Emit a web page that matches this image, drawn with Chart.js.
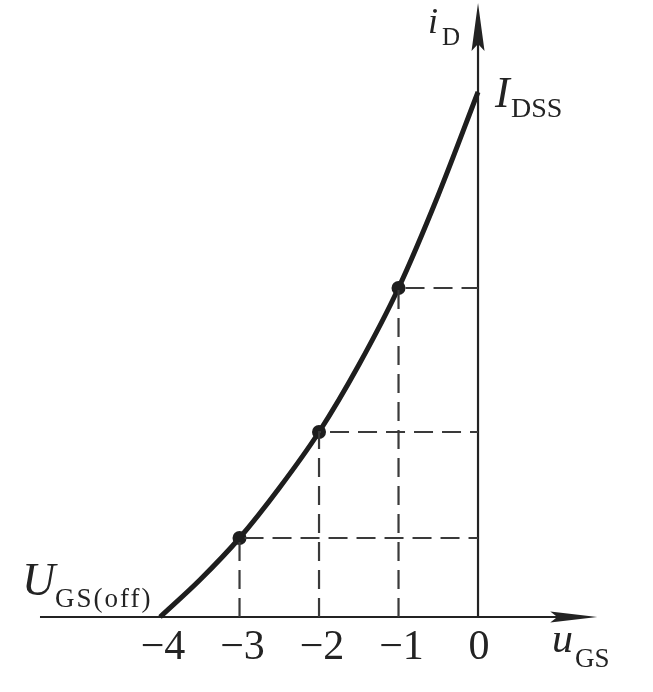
<!DOCTYPE html>
<html>
<head>
<meta charset="utf-8">
<script src="https://cdn.jsdelivr.net/npm/chart.js@4.4.1/dist/chart.umd.min.js"></script>
<style>
  html, body { margin: 0; padding: 0; background: #fff; }
  canvas { display: block; }
</style>
</head>
<body>
<canvas id="cv" width="653" height="692"></canvas>
<script>
// transfer characteristic of a JFET
const uGS = [-4, -3.5, -3, -2.5, -2, -1.5, -1, -0.5, 0];
const iD = [0, 0.37, 0.79, 1.29, 1.85, 2.52, 3.29, 4.22, 5.25];

// the three marked points
const markU = [-3, -2, -1];
const markI = [0.79, 1.85, 3.29];

const tickValues = [-4, -3, -2, -1, 0];
const tickLabels = ['\u22124', '\u22123', '\u22122', '\u22121', '0'];

const INK = '#232323';
const SERIF = '"Liberation Serif", "DejaVu Serif", serif';

const curve = uGS.map((u, i) => ({ x: u, y: iD[i] }));
const marks = markU.map((u, i) => ({ x: u, y: markI[i] }));

// dashed guides: down to the u axis and across to the i axis
const guides = markU.map((u, i) => ({
    data: [{ x: u, y: 0 }, { x: u, y: markI[i] }, { x: 0, y: markI[i] }],
    borderColor: '#3a3a3a', borderWidth: 2.2, borderDash: [19, 9],
    pointRadius: 0, showLine: true, fill: false, tension: 0
}));

function sub(ctx, main, s, x, y, mainPx, subPx, dx, dy, spacing) {
    ctx.font = 'italic ' + mainPx + 'px ' + SERIF;
    ctx.fillText(main, x, y);
    ctx.font = subPx + 'px ' + SERIF;
    ctx.letterSpacing = (spacing || 0) + 'px';
    ctx.fillText(s, x + dx, y + dy);
    ctx.letterSpacing = '0px';
}

const axesPlugin = {
    id: 'axes',
    beforeDatasetsDraw(chart) {
        const ctx = chart.ctx, sx = chart.scales.x, sy = chart.scales.y;
        const x0 = sx.getPixelForValue(0), y0 = sy.getPixelForValue(0);
        const xl = sx.getPixelForValue(-5.51), xr = sx.getPixelForValue(1.5);
        const yt = sy.getPixelForValue(6.14);
        ctx.save();
        ctx.strokeStyle = INK; ctx.fillStyle = INK; ctx.lineWidth = 2.2;
        ctx.beginPath();
        ctx.moveTo(xl, y0); ctx.lineTo(xr - 30, y0);
        ctx.moveTo(x0, y0); ctx.lineTo(x0, yt + 30);
        ctx.stroke();
        // arrow heads
        ctx.beginPath();
        ctx.moveTo(xr, y0); ctx.lineTo(xr - 47, y0 - 5.5); ctx.lineTo(xr - 40, y0); ctx.lineTo(xr - 47, y0 + 5.5);
        ctx.closePath(); ctx.fill();
        ctx.beginPath();
        ctx.moveTo(x0, yt); ctx.lineTo(x0 - 6.5, yt + 48); ctx.lineTo(x0, yt + 41); ctx.lineTo(x0 + 6.5, yt + 48);
        ctx.closePath(); ctx.fill();
        ctx.restore();
    },
    afterDraw(chart) {
        const ctx = chart.ctx, sx = chart.scales.x, sy = chart.scales.y;
        const y0 = sy.getPixelForValue(0);
        ctx.save();
        ctx.fillStyle = INK;
        ctx.textBaseline = 'alphabetic';
        ctx.textAlign = 'center';
        ctx.font = '42px ' + SERIF;
        tickValues.forEach((v, i) => {
            ctx.fillText(tickLabels[i], sx.getPixelForValue(v) + (v === 0 ? 1 : 3), y0 + 42);
        });
        ctx.textAlign = 'left';
        const x0 = sx.getPixelForValue(0);
        const ytop = sy.getPixelForValue(iD[iD.length - 1]);
        sub(ctx, 'i', 'D', x0 - 50, 33, 36, 25, 14, 12);
        sub(ctx, 'I', 'DSS', x0 + 17, ytop + 15, 44, 28, 16, 10);
        sub(ctx, 'U', 'GS(off)', 22, y0 - 22, 46, 27, 33, 12, 2);
        sub(ctx, 'u', 'GS', x0 + 74, y0 + 35, 42, 27, 23, 15);
        ctx.restore();
    }
};

new Chart(document.getElementById('cv'), {
    type: 'scatter',
    data: {
        datasets: [
            ...guides,
            {
                data: curve, showLine: true, borderColor: '#1e1e1e', borderWidth: 5,
                pointRadius: 0, cubicInterpolationMode: 'monotone', fill: false
            },
            {
                data: marks, showLine: false, pointRadius: 7,
                pointBackgroundColor: '#1e1e1e', pointBorderColor: '#1e1e1e', pointBorderWidth: 0
            }
        ]
    },
    options: {
        responsive: false, animation: false,
        layout: { padding: 0, autoPadding: false },
        plugins: { legend: { display: false }, tooltip: { enabled: false } },
        scales: {
            x: { type: 'linear', display: false, min: -6.013, max: 2.201 },
            y: { type: 'linear', display: false, min: -0.75, max: 6.17 }
        }
    },
    plugins: [axesPlugin]
});
</script>
</body>
</html>
